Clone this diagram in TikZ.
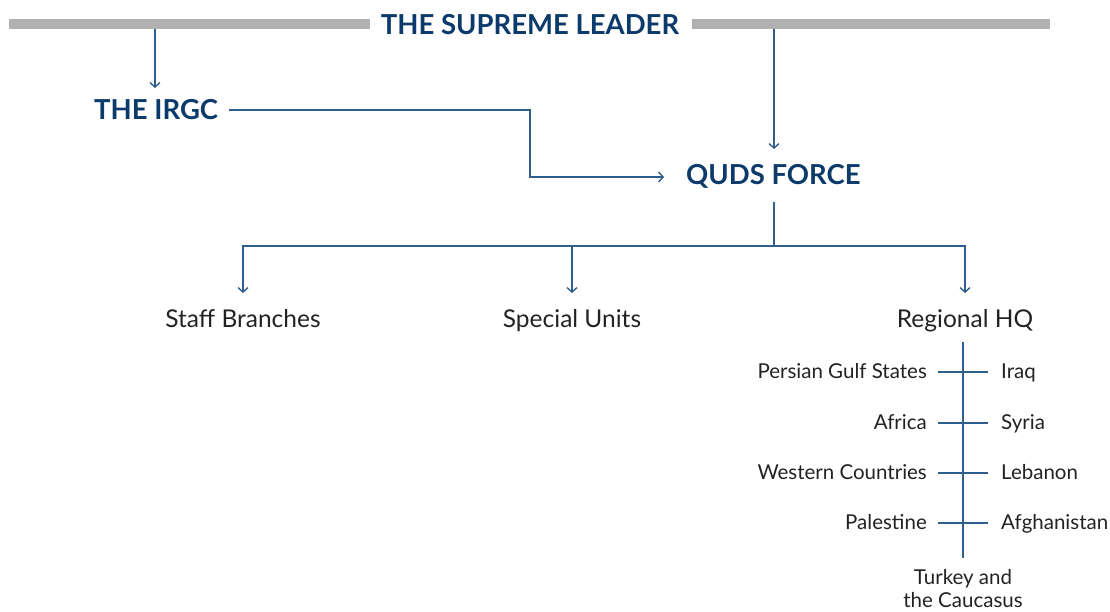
\documentclass[tikz,border=0pt]{standalone}
\usepackage{fontspec}
\setmainfont{Lato}
\usetikzlibrary{arrows.meta}
\definecolor{navy}{HTML}{0B3A6B}
\definecolor{linec}{HTML}{2F5D8E}
\definecolor{barc}{HTML}{B0B0B0}
\definecolor{bodyc}{HTML}{222222}
\begin{document}
\begin{tikzpicture}[x=1pt,y=-1pt,
  head/.style={inner sep=0pt,text=navy,font=\fontsize{27.5}{30}\selectfont\bfseries},
  sub/.style={inner sep=0pt,text=bodyc,font=\fontsize{24.5}{26}\selectfont},
  reg/.style={inner sep=0pt,text=bodyc,font=\fontsize{20.5}{23}\selectfont},
  conn/.style={draw=linec,line width=1.4pt},
  arr/.style={conn,-{Straight Barb[length=4.5pt,width=10pt,line width=1.4pt]}},
  bar/.style={fill=barc,draw=none}]
\useasboundingbox (0,0) rectangle (1110,612);
% bars
\fill[bar] (9,19) rectangle (370,29);
\fill[bar] (692,19) rectangle (1050,29);
% headings
\node[head,anchor=base] (sl) at (530,35) {THE SUPREME LEADER};
\node[head,anchor=base west] (irgc) at (94,120) {THE IRGC};
\node[head,anchor=base west] (quds) at (686,185) {QUDS FORCE};
% sub nodes
\node[sub,anchor=base] (staff) at (243,327) {Staff Branches};
\node[sub,anchor=base] (special) at (572,327) {Special Units};
\node[sub,anchor=base] (rhq) at (965,327) {Regional HQ};
% coordinates
\coordinate (b1) at (155,29);
\coordinate (b2) at (774,29);
\coordinate (irgcin) at (155,88);
\coordinate (qudsin) at (774,149);
\coordinate (irgcout) at (229,110);
\coordinate (qudsleft) at (664,177);
\coordinate (qudsout) at (774,202);
\coordinate (split) at (774,246);
\coordinate (staffin) at (243,293);
\coordinate (specialin) at (572,293);
\coordinate (rhqin) at (965,293);
\coordinate (spinetop) at (963,342);
\coordinate (spinebot) at (963,558);
% connectors
\draw[arr] (b1) -- (irgcin);
\draw[arr] (b2) -- (qudsin);
\draw[arr] (irgcout) -- (530,110) -- (530,177) -- (qudsleft);
\draw[conn] (qudsout) -- (split);
\draw[arr] (split) -| (staffin);
\draw[arr] (split) -| (rhqin);
\draw[arr] (572,246) -- (specialin);
\draw[conn] (spinetop) -- (spinebot);
% region labels
\foreach \y/\l/\r [count=\i] in {378/Persian Gulf States/Iraq,429/Africa/Syria,479/Western Countries/Lebanon,529/Palestine/Afghanistan}{
  \node[reg,anchor=base east] (L\i) at (927,\y) {\l};
  \node[reg,anchor=base west] (R\i) at (1001,\y) {\r};
  \coordinate (tl\i) at (938,\y-6);
  \coordinate (tr\i) at (988,\y-6);
  \draw[conn] (tl\i) -- (tr\i);
}
\node[reg,anchor=base,align=center] (tc) at (963,607) {Turkey and\\the Caucasus};
\end{tikzpicture}
\end{document}
